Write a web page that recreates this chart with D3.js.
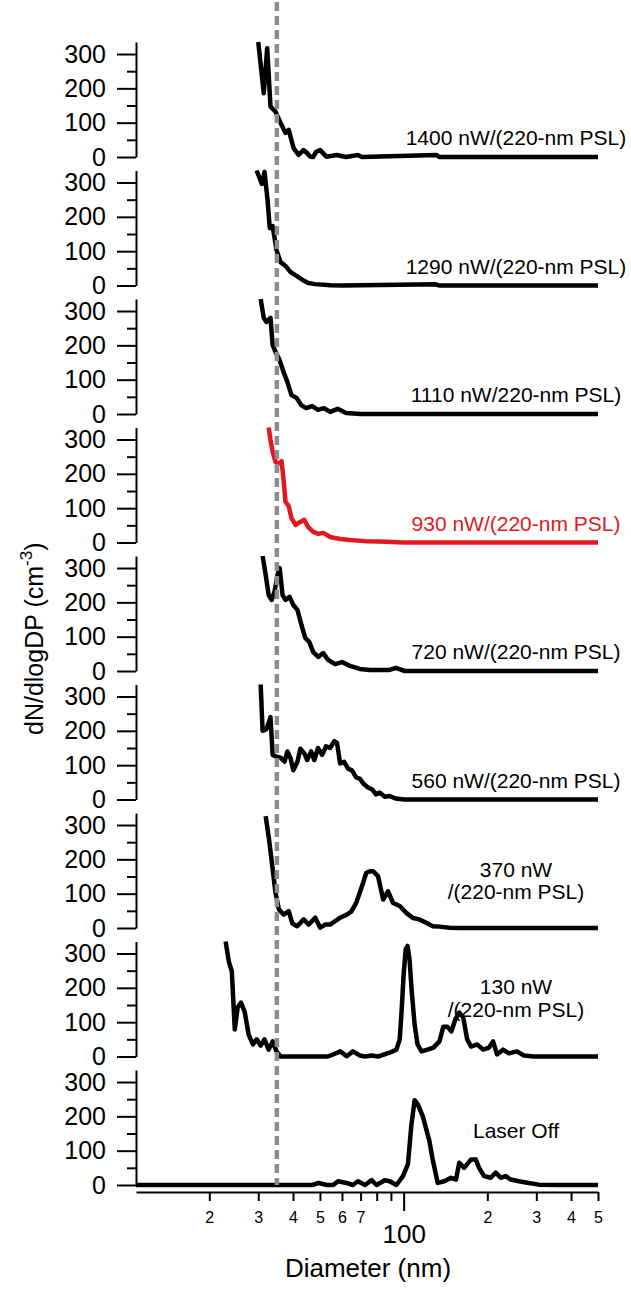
<!DOCTYPE html>
<html>
<head>
<meta charset="utf-8">
<script src="https://cdn.jsdelivr.net/npm/d3@7"></script>
<style>
  body { margin: 0; background: #fff; }
  svg { display: block; font-family: "Liberation Sans", Arial, sans-serif; }
</style>
</head>
<body>
<svg id="chart"></svg>
<script>
// size distributions, [diameter nm, dN/dlogDp]
const p1400 = [[30.0,335],[31.4,186],[32.3,317],[33.2,147],[34.6,132],[36.1,99],[37.6,70],[38.6,79],[40.2,26],[41.9,6],[43.6,20],[44.9,12],[46.2,1],[47.3,0],[48.4,15],[50.1,20],[52.7,1],[57.5,6],[62,0],[68.5,6],[70.8,0],[130.9,6],[134.5,0],[500,0]];
const p1290 = [[29.6,335],[30.9,296],[31.6,331],[32.4,249],[33.0,167],[33.8,173],[34.9,103],[36.1,68],[37.6,57],[39.2,39],[41.2,28],[43.3,16],[45.4,7],[48.1,4],[54.4,1],[60,0],[130,4],[134,0],[500,0]];
const p1110 = [[30.6,335],[31.4,280],[32.1,268],[33.2,280],[33.8,201],[34.6,181],[35.8,157],[37.0,122],[38.2,93],[39.5,55],[41.2,47],[42.8,26],[44.6,17],[46.9,23],[49.2,12],[51.7,17],[54.4,6],[57.9,15],[62.1,3],[70,0],[500,0]];
const p930 = [[32.7,335],[33.2,299],[33.8,264],[34.6,235],[35.5,229],[36.4,237],[37.0,182],[37.6,118],[38.6,106],[39.5,71],[40.9,51],[42.5,60],[43.9,66],[45.4,45],[47.3,31],[49.3,25],[51.4,28],[54.4,16],[59.1,10],[64.1,7],[72.6,4],[82.1,3],[100,0],[500,0]];
const p720 = [[31.1,335],[31.9,280],[32.7,221],[33.5,207],[34.3,230],[35.2,280],[35.8,300],[36.7,221],[37.6,207],[38.9,216],[40.1,192],[41.5,178],[42.9,134],[44.3,96],[45.8,84],[47.3,55],[49.3,41],[51.4,52],[53.5,32],[56.7,20],[60,26],[64.1,15],[69.6,6],[75.6,3],[89.1,3],[93.6,9],[101,0],[500,0]];
const p560 = [[30.6,335],[31.1,200],[32.1,205],[33.2,240],[33.8,130],[34.9,125],[36.1,122],[37.3,110],[38.2,140],[39.2,120],[40.1,85],[41.5,110],[42.5,148],[43.9,135],[45.0,115],[46.5,140],[47.7,115],[49.2,150],[50.9,130],[52.6,155],[54.4,150],[56.3,170],[57.6,165],[59.1,105],[61.1,110],[63.1,90],[65.2,85],[67.4,65],[69.6,60],[71.9,45],[74.4,35],[76.9,30],[79.5,15],[82.1,20],[85.5,8],[89.1,10],[93.6,3],[100.8,0],[500,0]];
const p370 = [[31.9,326],[32.8,258],[33.7,180],[34.6,103],[35.6,54],[37.0,39],[38.6,49],[39.8,13],[41.4,5],[43.7,25],[45.5,10],[48.1,30],[50.1,1],[52.2,10],[54.4,10],[59.1,30],[62.4,39],[64.8,48],[67.5,73],[71.5,132],[73.4,161],[75.6,165],[77.7,165],[80.9,151],[84.4,83],[87.9,107],[91.6,73],[96.8,64],[102.2,44],[108,29],[114,25],[120.5,15],[127.3,5],[134.5,4],[146,1],[160,0],[500,0]];
const p130 = [[22.9,335],[23.5,277],[24.1,248],[24.7,79],[25.3,143],[26.0,157],[26.8,131],[27.7,64],[28.7,35],[29.6,50],[30.6,32],[31.6,50],[32.7,20],[33.8,44],[34.9,15],[36.1,0],[53.4,0],[55.8,6],[59.1,15],[62.4,1],[65.7,15],[69.6,3],[72.6,0],[76.7,3],[80.9,0],[89.1,11],[94.2,20],[96.8,50],[98.4,137],[100,239],[101.7,312],[103.3,322],[105,283],[106.8,195],[109.5,93],[112.2,35],[116,15],[121.8,20],[128,26],[134.5,44],[138.9,87],[143.6,87],[148.4,73],[153.4,108],[158.5,128],[163.8,114],[169.2,50],[174.9,29],[183.9,35],[193.2,20],[202.9,26],[209.7,44],[216.7,6],[227.6,20],[239,9],[255.5,15],[270.6,3],[293.5,0],[500,0]];
const pOff = [[10.9,0],[47,0],[49.4,6],[53,0],[55.8,0],[58.1,11],[62.4,6],[65.7,0],[68.5,11],[72.6,0],[76.7,14],[79.9,0],[85.5,14],[89.1,11],[94.2,0],[99.4,26],[103.6,60],[106.5,171],[109.5,247],[112.5,235],[117.2,200],[123.8,128],[127.2,74],[132.6,6],[140.1,11],[148,21],[154.3,16],[158.5,65],[165.1,50],[174.5,74],[181.8,74],[186.8,50],[194.7,26],[205.7,21],[214.4,36],[223.4,21],[232.7,26],[242.4,16],[259.6,11],[281.8,6],[306,1],[360,0],[500,0]];

const seriesList = [p1400, p1290, p1110, p930, p720, p560, p370, p130, pOff];
const panelLabels = [
  ["1400 nW/(220-nm PSL)"], ["1290 nW/(220-nm PSL)"], ["1110 nW/220-nm PSL)"],
  ["930 nW/(220-nm PSL)"], ["720 nW/(220-nm PSL)"], ["560 nW/(220-nm PSL)"],
  ["370 nW", "/(220-nm PSL)"], ["130 nW", "/(220-nm PSL)"], ["Laser Off"]
];
const yTicks = [0, 100, 200, 300];
const yMinorTicks = [50, 150, 250];
const xMinorTicks = [20, 30, 40, 50, 60, 70, 80, 90, 200, 300, 400, 500];
const xMajorTicks = [100];
const cutDiameter = 35;

const W = 631, H = 1293;
const svg = d3.select("#chart").attr("width", W).attr("height", H);

const x = d3.scaleLog().domain([10.9, 500]).range([136, 598]);
const firstZero = 157, step = 128.5;
// where each panel's text sits relative to its zero line
const labelOffsets = [[-12], [-12], [-12], [-12], [-12], [-12], [-51.5, -29.5], [-63, -39.5], [-47]];

seriesList.forEach((data, i) => {
  const zero = firstZero + step * i;
  const y = d3.scaleLinear().domain([0, 335]).range([zero, zero - 115]);
  const g = svg.append("g");
  const color = i === 3 ? "#e3181f" : "#000";

  // y axis: major then minor ticks
  const ax = g.append("g").attr("transform", "translate(136,0)")
    .call(d3.axisLeft(y).tickValues(yTicks).tickSize(19).tickPadding(11).tickSizeOuter(0));
  ax.selectAll("text").style("font-size", "25px").attr("fill", "#000");
  g.append("g").attr("transform", "translate(136,0)")
    .call(d3.axisLeft(y).tickValues(yMinorTicks).tickSize(9).tickFormat("").tickSizeOuter(0))
    .select(".domain").remove();
  g.selectAll(".domain, .tick line").attr("stroke", "#000").attr("stroke-width", 2);

  const line = d3.line().x(d => x(d[0])).y(d => y(d[1]));
  g.append("path").datum(data)
    .attr("d", line)
    .attr("fill", "none")
    .attr("stroke", color)
    .attr("stroke-width", 4.5)
    .attr("stroke-linejoin", "round");

  panelLabels[i].forEach((t, k) => {
    g.append("text")
      .attr("x", 516).attr("y", zero + labelOffsets[i][k])
      .attr("text-anchor", "middle")
      .attr("fill", color)
      .style("font-size", "21px")
      .text(t);
  });
});

// x axis under the last panel
const axisY = firstZero + step * 8 + 7;
const xMinor = svg.append("g").attr("transform", `translate(0,${axisY})`)
  .call(d3.axisBottom(x).tickValues(xMinorTicks).tickSize(9).tickPadding(11).tickSizeOuter(0)
    .tickFormat(d => (d === 80 || d === 90) ? "" : String(d).charAt(0)));
xMinor.selectAll("text").style("font-size", "16px").attr("fill", "#000");
const xMajor = svg.append("g").attr("transform", `translate(0,${axisY})`)
  .call(d3.axisBottom(x).tickValues(xMajorTicks).tickSize(19).tickPadding(14).tickSizeOuter(0)
    .tickFormat(d3.format("d")));
xMajor.select(".domain").remove();
xMajor.selectAll("text").style("font-size", "26px").attr("fill", "#000");
svg.selectAll(".domain, .tick line").attr("stroke", "#000").attr("stroke-width", 2);

// dashed marker at 35 nm
svg.append("line")
  .attr("x1", x(cutDiameter)).attr("x2", x(cutDiameter))
  .attr("y1", 2).attr("y2", firstZero + step * 8)
  .attr("stroke", "#8c8c8c").attr("stroke-width", 4.5)
  .attr("stroke-dasharray", "9,5");

svg.append("text")
  .attr("x", 368).attr("y", 1277)
  .attr("text-anchor", "middle")
  .style("font-size", "26px")
  .text("Diameter (nm)");

const yl = svg.append("text")
  .attr("transform", "translate(43,735) rotate(-90)")
  .attr("text-anchor", "start")
  .style("font-size", "25px");
yl.append("tspan").text("dN/dlogDP (cm");
yl.append("tspan").attr("dy", -11).style("font-size", "17px").text("-3");
yl.append("tspan").attr("dy", 11).text(")");
</script>
</body>
</html>
